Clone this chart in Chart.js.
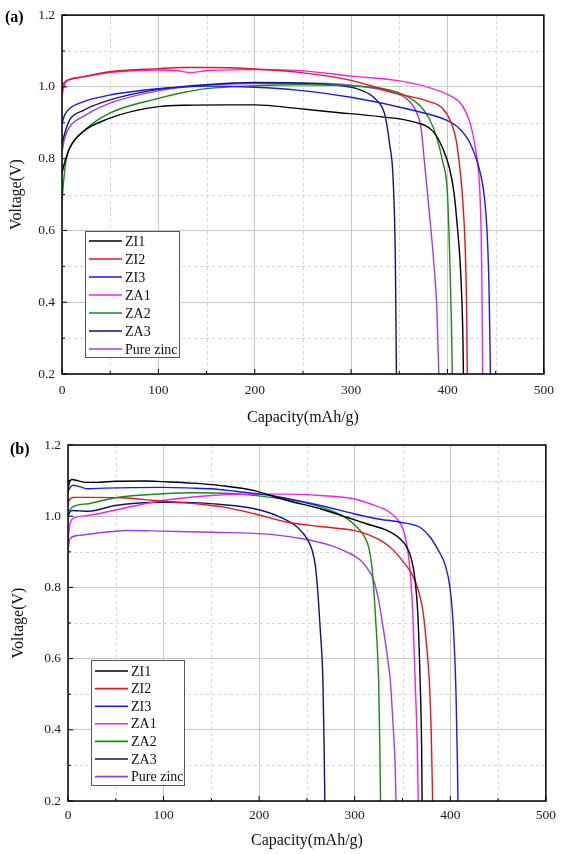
<!DOCTYPE html>
<html>
<head>
<meta charset="utf-8">
<script src="https://cdn.jsdelivr.net/npm/chart.js@4.4.0/dist/chart.umd.min.js"></script>
<style>
html, body { margin: 0; padding: 0; background: #fff; }
#wrapA { position: absolute; left: 0; top: 0; width: 562px; height: 432px; }
#wrapB { position: absolute; left: 0; top: 425px; width: 562px; height: 429px; }
</style>
</head>
<body>
<div id="wrapA"><canvas id="chartA" width="562" height="432"></canvas></div>
<div id="wrapB"><canvas id="chartB" width="562" height="429"></canvas></div>
<script>
// series names and tick values
const seriesNames = ['ZI1', 'ZI2', 'ZI3', 'ZA1', 'ZA2', 'ZA3', 'Pure zinc'];
const xTicks = [0, 100, 200, 300, 400, 500];
const yTicks = [0.2, 0.4, 0.6, 0.8, 1.0, 1.2];
const xMinor = [50, 150, 250, 350, 450];
const yMinor = [0.3, 0.5, 0.7, 0.9, 1.1];

// (a) discharge curves: [capacity mAh/g, voltage V]
const aZI1 = [[0,0.76],[2.8,0.79],[8,0.83],[21.7,0.875],[49,0.912],[75,0.933],[100,0.945],[130,0.949],[170,0.95],[200,0.95],[244,0.94],[280,0.93],[330,0.917],[364,0.903],[385,0.876],[395,0.829],[402,0.774],[407,0.70],[410.3,0.608],[413,0.516],[415,0.4],[416,0.3],[416.5,0.2]];
const aZI2 = [[0,0.99],[1,1.005],[3,1.014],[8,1.021],[22,1.028],[49,1.042],[100,1.051],[124,1.054],[150,1.054],[200,1.05],[244,1.041],[300,1.018],[347,0.982],[381,0.959],[395,0.94],[403.4,0.903],[408.6,0.857],[412,0.793],[415.4,0.70],[418.8,0.516],[420,0.35],[420.5,0.2]];
const aZI3 = [[0,0.899],[2.8,0.922],[8,0.94],[21.7,0.958],[49,0.977],[100,0.995],[127,1.0],[150,1.002],[200,0.999],[244,0.991],[300,0.971],[364,0.935],[398.3,0.908],[412,0.885],[420.5,0.857],[425.7,0.829],[429,0.806],[434,0.76],[438,0.70],[441,0.6],[443,0.45],[444,0.3],[444.5,0.2]];
const aZA1 = [[0,0.975],[1.5,0.995],[4,1.014],[8,1.02],[22,1.028],[49,1.04],[100,1.047],[120,1.045],[133,1.04],[150,1.045],[200,1.048],[244,1.046],[300,1.03],[347,1.018],[381,0.998],[401.7,0.977],[412,0.959],[418.8,0.931],[424,0.894],[429,0.829],[432,0.77],[434,0.68],[435.5,0.5],[436.5,0.2]];
const aZA2 = [[0,0.68],[1.4,0.729],[4,0.792],[8,0.829],[21.7,0.875],[49,0.926],[100,0.968],[127,0.985],[150,0.995],[200,1.003],[244,1.006],[300,1.003],[347,0.986],[371,0.949],[381,0.912],[388,0.866],[394.9,0.793],[400,0.70],[402.4,0.516],[404,0.35],[405,0.2]];
const aZA3 = [[0,0.84],[2.8,0.87],[8,0.908],[21.7,0.934],[49,0.963],[100,0.993],[150,1.006],[200,1.012],[244,1.011],[270,1.008],[290,1.003],[305.8,0.995],[326.4,0.963],[335,0.922],[340,0.839],[343.5,0.747],[345.9,0.516],[346.5,0.35],[347,0.2]];
const aPure = [[0,0.82],[2.8,0.857],[8,0.889],[21.7,0.917],[49,0.954],[100,0.989],[150,1.005],[200,1.009],[244,1.011],[300,1.005],[340,0.986],[357,0.968],[367.5,0.931],[372.6,0.885],[376,0.793],[381,0.654],[385.6,0.516],[389,0.38],[391,0.2]];

// (b) discharge curves
const bZI1 = [[0,1.065],[1,1.09],[4.2,1.103],[10,1.1],[18,1.095],[30,1.095],[49.6,1.098],[80,1.099],[99.3,1.097],[130,1.093],[160,1.086],[195,1.072],[229.5,1.044],[264,1.021],[292,0.997],[313,0.978],[333.7,0.96],[347.6,0.936],[354.5,0.913],[359.7,0.876],[363.2,0.82],[366,0.726],[368.4,0.539],[370,0.35],[370.5,0.2]];
const bZI2 = [[0,1.03],[1,1.044],[5.9,1.053],[21.3,1.053],[56,1.052],[91,1.044],[120,1.038],[150.5,1.03],[160,1.027],[195,1.007],[229.5,0.983],[264,0.971],[299,0.96],[316,0.946],[330,0.927],[340.6,0.904],[351,0.871],[359.7,0.838],[366.6,0.792],[371.8,0.726],[375.3,0.633],[378,0.539],[380,0.4],[381.5,0.2]];
const bZI3 = [[0,1.07],[2.1,1.08],[5,1.087],[12,1.083],[21.3,1.077],[38.7,1.079],[99.3,1.081],[130,1.079],[150,1.077],[175,1.07],[212,1.058],[264,1.03],[299,1.007],[323,0.993],[347.6,0.983],[368,0.969],[379,0.941],[387.5,0.904],[395,0.86],[399.6,0.8],[403,0.7],[406,0.5],[407.5,0.3],[408,0.2]];
const bZA1 = [[0,0.932],[2.1,0.979],[7.3,0.996],[21.3,1.002],[56,1.021],[99.3,1.044],[150.5,1.058],[200,1.062],[229.5,1.062],[264,1.058],[299,1.049],[316,1.035],[333.7,1.016],[344,0.993],[351,0.96],[356,0.894],[358.7,0.82],[360.8,0.726],[363.2,0.539],[365.5,0.35],[366.5,0.2]];
const bZA2 = [[0,1.011],[4.2,1.025],[11,1.032],[21.3,1.035],[49.6,1.052],[99.3,1.063],[130,1.066],[170,1.064],[212,1.053],[247,1.039],[274.7,1.016],[292,0.993],[302.4,0.969],[309.4,0.946],[314.6,0.913],[318,0.857],[320.5,0.773],[322.6,0.679],[325,0.539],[326.3,0.35],[327,0.2]];
const bZA3 = [[0,0.997],[1.5,1.01],[4.2,1.016],[12,1.015],[21.3,1.014],[49.6,1.03],[99.3,1.039],[130,1.038],[160,1.033],[195,1.021],[222.6,0.997],[240,0.969],[250.3,0.936],[255.5,0.904],[259,0.857],[261.8,0.773],[264,0.679],[266.7,0.539],[268,0.35],[268.7,0.2]];
const bPure = [[0,0.904],[2.1,0.937],[11,0.946],[38.7,0.955],[63,0.96],[99.3,0.958],[150.5,0.955],[212,0.949],[247,0.936],[274.7,0.918],[292,0.899],[306,0.876],[314.6,0.848],[319.8,0.82],[325,0.764],[330.2,0.679],[334.7,0.595],[337.2,0.539],[340,0.42],[342.3,0.3],[343.2,0.2]];

const seriesColors = ['#000000', '#e8141a', '#1a1ae6', '#ee22ee', '#138d13', '#11117a', '#a03ce6'];
const serif = "'Liberation Serif', 'Times New Roman', serif";

// minor dashed grid, frame, inward ticks, legend box, panel letter
const decor = {
    id: 'decor',
    beforeDatasetsDraw(chart, args, o) {
        const { ctx, chartArea: ca, scales: { x, y } } = chart;
        ctx.save();
        ctx.strokeStyle = '#d6d6d6';
        ctx.lineWidth = 1;
        ctx.setLineDash([3, 3]);
        ctx.beginPath();
        xMinor.forEach(v => {
            const px = Math.round(x.getPixelForValue(v)) + 0.5;
            ctx.moveTo(px, ca.top); ctx.lineTo(px, ca.bottom);
        });
        yMinor.forEach(v => {
            const py = Math.round(y.getPixelForValue(v)) + 0.5;
            ctx.moveTo(ca.left, py); ctx.lineTo(ca.right, py);
        });
        ctx.stroke();
        ctx.restore();
    },
    afterDraw(chart, args, o) {
        const { ctx, chartArea: ca, scales: { x, y } } = chart;
        ctx.save();
        // frame
        ctx.strokeStyle = '#000';
        ctx.lineWidth = 1.5;
        ctx.strokeRect(ca.left, ca.top, ca.right - ca.left, ca.bottom - ca.top);
        // inward ticks
        ctx.lineWidth = 1;
        ctx.beginPath();
        xTicks.concat(xMinor).forEach(v => {
            const px = x.getPixelForValue(v);
            const len = xMinor.includes(v) ? 3 : 5;
            ctx.moveTo(px, ca.bottom); ctx.lineTo(px, ca.bottom - len);
        });
        yTicks.concat(yMinor).forEach(v => {
            const py = y.getPixelForValue(v);
            const len = yMinor.includes(v) ? 3 : 5;
            ctx.moveTo(ca.left, py); ctx.lineTo(ca.left + len, py);
        });
        ctx.stroke();

        // legend
        const L = o.legend;
        const bx = ca.left + L.dx, by = ca.bottom - L.dy - L.h;
        ctx.fillStyle = '#fff';
        ctx.fillRect(bx, by, L.w, L.h);
        ctx.strokeStyle = '#555';
        ctx.lineWidth = 1;
        ctx.strokeRect(bx + 0.5, by + 0.5, L.w, L.h);
        ctx.font = '14px ' + serif;
        ctx.textBaseline = 'middle';
        ctx.textAlign = 'left';
        chart.data.datasets.forEach((ds, i) => {
            const ry = by + L.first + i * L.step;
            ctx.strokeStyle = ds.borderColor;
            ctx.lineWidth = 1.6;
            ctx.beginPath();
            ctx.moveTo(bx + 4, ry); ctx.lineTo(bx + 37, ry);
            ctx.stroke();
            ctx.fillStyle = '#111';
            ctx.fillText(ds.label, bx + 40, ry + 1);
        });

        // panel letter
        ctx.font = 'bold 16px ' + serif;
        ctx.fillStyle = '#000';
        ctx.textAlign = 'left';
        ctx.fillText(o.letter, o.lx, o.ly);
        ctx.restore();
    }
};

function makeSets(list) {
    return list.map((pts, i) => ({
        label: seriesNames[i],
        data: pts.map(p => ({ x: p[0], y: p[1] })),
        borderColor: seriesColors[i],
        borderWidth: 1.4,
        pointRadius: 0,
        fill: false,
        cubicInterpolationMode: 'monotone'
    }));
}

function makeChart(id, list, g) {
    return new Chart(document.getElementById(id), {
        type: 'line',
        data: { datasets: makeSets(list) },
        options: {
            responsive: false,
            animation: false,
            layout: { padding: { top: g.padTop, right: g.padRight, left: 0, bottom: 0 } },
            plugins: {
                legend: { display: false },
                tooltip: { enabled: false },
                decor: { letter: g.letter, lx: g.lx, ly: g.ly, legend: g.legend }
            },
            scales: {
                x: {
                    type: 'linear', min: 0, max: 500,
                    afterBuildTicks: s => { s.ticks = xTicks.map(v => ({ value: v })); },
                    afterFit: s => { s.height = g.xHeight; },
                    grid: { color: '#c8c8c8', lineWidth: 1, drawTicks: false },
                    border: { display: false },
                    ticks: { color: '#222', padding: g.xTickPad, maxRotation: 0, font: { family: serif, size: 13.5 } },
                    title: { display: true, text: 'Capacity(mAh/g)', color: '#111', padding: { top: 0, bottom: g.xTitlePad }, font: { family: serif, size: 16 } }
                },
                y: {
                    type: 'linear', min: 0.2, max: 1.2,
                    afterBuildTicks: s => { s.ticks = yTicks.map(v => ({ value: v })); },
                    afterFit: s => { s.width = g.yWidth; },
                    grid: { color: '#c8c8c8', lineWidth: 1, drawTicks: false },
                    border: { display: false },
                    ticks: { color: '#222', padding: 7, font: { family: serif, size: 13.5 }, callback: v => Number(v).toFixed(1) },
                    title: { display: true, text: 'Voltage(V)', color: '#111', padding: { top: g.yTitlePad, bottom: 0 }, font: { family: serif, size: 16 } }
                }
            }
        },
        plugins: [decor]
    });
}

makeChart('chartA', [aZI1, aZI2, aZI3, aZA1, aZA2, aZA3, aPure], {
    padTop: 13, padRight: 12, yWidth: 62, xHeight: 432 - 374,
    xTickPad: 8, xTitlePad: 5, yTitlePad: 7,
    letter: '(a)', lx: 5, ly: 18,
    legend: { dx: 23, dy: 17, w: 94, h: 126, first: 10, step: 18 }
});

makeChart('chartB', [bZI1, bZI2, bZI3, bZA1, bZA2, bZA3, bPure], {
    padTop: 20, padRight: 16, yWidth: 68, xHeight: 429 - 376,
    xTickPad: 6, xTitlePad: 4, yTitlePad: 9,
    letter: '(b)', lx: 10, ly: 25,
    legend: { dx: 23, dy: 16, w: 93, h: 125, first: 11, step: 17.6 }
});
</script>
</body>
</html>
